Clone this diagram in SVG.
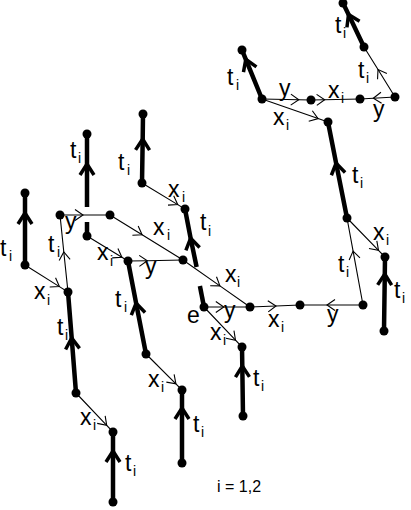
<svg xmlns="http://www.w3.org/2000/svg" width="411" height="510" viewBox="0 0 411 510">
<style>
.thin{stroke:#000;stroke-width:1.1;fill:none;marker-mid:url(#ah)}
.thick{stroke:#000;stroke-width:4.5;fill:none;marker-mid:url(#ahT)}
.stub{stroke:#000;stroke-width:4.5;fill:none}
.l{font-family:"Liberation Sans",Arial,Helvetica,sans-serif;font-size:23px;fill:#000}
.s{font-size:14px}
.n{fill:#000}
</style>
<defs>
<marker id="ah" markerUnits="userSpaceOnUse" markerWidth="20" markerHeight="20" viewBox="-10 -10 20 20" refX="0" refY="0" orient="auto" overflow="visible">
<path d="M-8,-5.5 L0,0 L-8,5.5" stroke="#000" stroke-width="1.1" fill="none"/>
</marker>
<marker id="ahT" markerUnits="userSpaceOnUse" markerWidth="26" markerHeight="26" viewBox="-13 -13 26 26" refX="0" refY="0" orient="auto" overflow="visible">
<path d="M-11,-7 L0,0 L-11,7" stroke="#000" stroke-width="3.5" fill="none"/>
</marker>
</defs>
<g id="connectors">
<path class="thick" d="M25,265 L25,213 L25,193"/>
<path class="stub" d="M87,236 L87,222"/>
<path class="thick" d="M87,207 L87,164 L87,134"/>
<path class="thick" d="M76,393 L71.7,338 L68,292"/>
<path class="thick" d="M113,502 L113,451 L113,432"/>
<path class="thick" d="M142,183 L142.7,139 L143,114"/>
<path class="stub" d="M204,307 L199.9,286"/>
<path class="thick" d="M196.6,267 L190.6,238.1 L185,209"/>
<path class="thick" d="M146,354 L136.1,303.1 L128,261"/>
<path class="thick" d="M182,463 L182,408 L182,390"/>
<path class="thick" d="M243,416 L242.3,366 L242,347"/>
<path class="thick" d="M384,331 L384.8,274 L385,257"/>
<path class="thick" d="M347,218 L336.1,163.1 L328,122"/>
<path class="thick" d="M262,99 L245.8,59.3 L242,50"/>
<path class="thick" d="M364,47 L348.5,14.4 L343,3"/>
<path class="thin" d="M25,265 L59.4,286.6 L68,292"/>
<path class="thin" d="M68,292 L63.8,252 L60,215"/>
<path class="thin" d="M60,215 L83,215 L110,215"/>
<path class="thin" d="M110,215 L142.1,234.8 L183,260"/>
<path class="thin" d="M183,260 L219.9,285.9 L250,307"/>
<path class="thin" d="M87,236 L121.9,257.3 L128,261"/>
<path class="thin" d="M128,261 L147.3,260.7 L183,260"/>
<path class="thin" d="M76,393 L106.7,425.4 L113,432"/>
<path class="thin" d="M146,354 L175.9,383.9 L182,390"/>
<path class="thin" d="M142,183 L177.7,204.6 L185,209"/>
<path class="thin" d="M204,307 L223.8,307 L250,307"/>
<path class="thin" d="M204,307 L235.5,340.2 L242,347"/>
<path class="thin" d="M250,307 L276,306 L300,305"/>
<path class="thin" d="M363,305 L327,305 L300,305"/>
<path class="thin" d="M363,305 L353.1,251.1 L347,218"/>
<path class="thin" d="M347,218 L378.5,250.4 L385,257"/>
<path class="thin" d="M262,99 L318.1,118.6 L328,122"/>
<path class="thin" d="M262,99 L298.8,99.8 L311,100"/>
<path class="thin" d="M311,100 L324.7,99.7 L360,99"/>
<path class="thin" d="M395,97 L373.3,98.2 L360,99"/>
<path class="thin" d="M395,97 L378,69.5 L364,47"/>
</g>
<g id="n1"><circle class="n" cx="25" cy="193" r="4.5"/></g>
<g id="n2"><circle class="n" cx="25" cy="265" r="4.5"/></g>
<g id="n3"><circle class="n" cx="68" cy="292" r="4.5"/></g>
<g id="n4"><circle class="n" cx="76" cy="393" r="4.5"/></g>
<g id="n5"><circle class="n" cx="113" cy="432" r="4.5"/></g>
<g id="n6"><circle class="n" cx="113" cy="502" r="4.5"/></g>
<g id="n7"><circle class="n" cx="60" cy="215" r="4.5"/></g>
<g id="n8"><circle class="n" cx="110" cy="215" r="4.5"/></g>
<g id="n9"><circle class="n" cx="87" cy="134" r="4.5"/></g>
<g id="n10"><circle class="n" cx="87" cy="236" r="4.5"/></g>
<g id="n11"><circle class="n" cx="128" cy="261" r="4.5"/></g>
<g id="n12"><circle class="n" cx="183" cy="260" r="4.5"/></g>
<g id="n13"><circle class="n" cx="146" cy="354" r="4.5"/></g>
<g id="n14"><circle class="n" cx="182" cy="390" r="4.5"/></g>
<g id="n15"><circle class="n" cx="182" cy="463" r="4.5"/></g>
<g id="n16"><circle class="n" cx="143" cy="114" r="4.5"/></g>
<g id="n17"><circle class="n" cx="142" cy="183" r="4.5"/></g>
<g id="n18"><circle class="n" cx="185" cy="209" r="4.5"/></g>
<g id="n19"><circle class="n" cx="204" cy="307" r="4.5"/></g>
<g id="n20"><circle class="n" cx="250" cy="307" r="4.5"/></g>
<g id="n21"><circle class="n" cx="242" cy="347" r="4.5"/></g>
<g id="n22"><circle class="n" cx="243" cy="416" r="4.5"/></g>
<g id="n23"><circle class="n" cx="300" cy="305" r="4.5"/></g>
<g id="n24"><circle class="n" cx="363" cy="305" r="4.5"/></g>
<g id="n25"><circle class="n" cx="347" cy="218" r="4.5"/></g>
<g id="n26"><circle class="n" cx="385" cy="257" r="4.5"/></g>
<g id="n27"><circle class="n" cx="384" cy="331" r="4.5"/></g>
<g id="n28"><circle class="n" cx="328" cy="122" r="4.5"/></g>
<g id="n29"><circle class="n" cx="262" cy="99" r="4.5"/></g>
<g id="n30"><circle class="n" cx="242" cy="50" r="4.5"/></g>
<g id="n31"><circle class="n" cx="311" cy="100" r="4.5"/></g>
<g id="n32"><circle class="n" cx="360" cy="99" r="4.5"/></g>
<g id="n33"><circle class="n" cx="395" cy="97" r="4.5"/></g>
<g id="n34"><circle class="n" cx="364" cy="47" r="4.5"/></g>
<g id="n35"><circle class="n" cx="343" cy="3" r="4.5"/></g>
<g id="labels">
<text class="l" x="0" y="256">t<tspan class="s" x="9" y="261">i</tspan></text>
<text class="l" x="34" y="299">x<tspan class="s" x="47" y="305">i</tspan></text>
<text class="l" x="70" y="158">t<tspan class="s" x="78" y="163">i</tspan></text>
<text class="l" x="65" y="229">y</text>
<text class="l" x="48" y="252">t<tspan class="s" x="57" y="257">i</tspan></text>
<text class="l" x="97" y="260">x<tspan class="s" x="110" y="266">i</tspan></text>
<text class="l" x="57" y="335">t<tspan class="s" x="65" y="340">i</tspan></text>
<text class="l" x="80" y="425">x<tspan class="s" x="93" y="430">i</tspan></text>
<text class="l" x="125" y="471">t<tspan class="s" x="133" y="476">i</tspan></text>
<text class="l" x="118" y="170">t<tspan class="s" x="127" y="175">i</tspan></text>
<text class="l" x="168" y="197">x<tspan class="s" x="182" y="202">i</tspan></text>
<text class="l" x="153" y="235">x<tspan class="s" x="167" y="240">i</tspan></text>
<text class="l" x="200" y="230">t<tspan class="s" x="208" y="236">i</tspan></text>
<text class="l" x="145" y="274">y</text>
<text class="l" x="115" y="307">t<tspan class="s" x="124" y="312">i</tspan></text>
<text class="l" x="148" y="387">x<tspan class="s" x="161" y="392">i</tspan></text>
<text class="l" x="193" y="432">t<tspan class="s" x="201" y="437">i</tspan></text>
<text class="l" x="225" y="282">x<tspan class="s" x="237" y="287">i</tspan></text>
<text class="l" x="187" y="323">e</text>
<text class="l" x="224" y="318">y</text>
<text class="l" x="210" y="340">x<tspan class="s" x="223" y="345">i</tspan></text>
<text class="l" x="253" y="386">t<tspan class="s" x="261" y="391">i</tspan></text>
<text class="l" x="268" y="327">x<tspan class="s" x="281" y="332">i</tspan></text>
<text class="l" x="327" y="322">y</text>
<text class="l" x="338" y="272">t<tspan class="s" x="346" y="277">i</tspan></text>
<text class="l" x="373" y="240">x<tspan class="s" x="386" y="245">i</tspan></text>
<text class="l" x="394" y="298">t<tspan class="s" x="402" y="303">i</tspan></text>
<text class="l" x="352" y="183">t<tspan class="s" x="360" y="188">i</tspan></text>
<text class="l" x="227" y="85">t<tspan class="s" x="236" y="90">i</tspan></text>
<text class="l" x="279" y="96">y</text>
<text class="l" x="273" y="125">x<tspan class="s" x="286" y="130">i</tspan></text>
<text class="l" x="328" y="98">x<tspan class="s" x="341" y="103">i</tspan></text>
<text class="l" x="373" y="117">y</text>
<text class="l" x="358" y="78">t<tspan class="s" x="366" y="83">i</tspan></text>
<text class="l" x="335" y="33">t<tspan class="s" x="343" y="38">i</tspan></text>
<text class="l" x="217" y="492" style="font-size:16px">i = 1,2</text>
</g>
</svg>
